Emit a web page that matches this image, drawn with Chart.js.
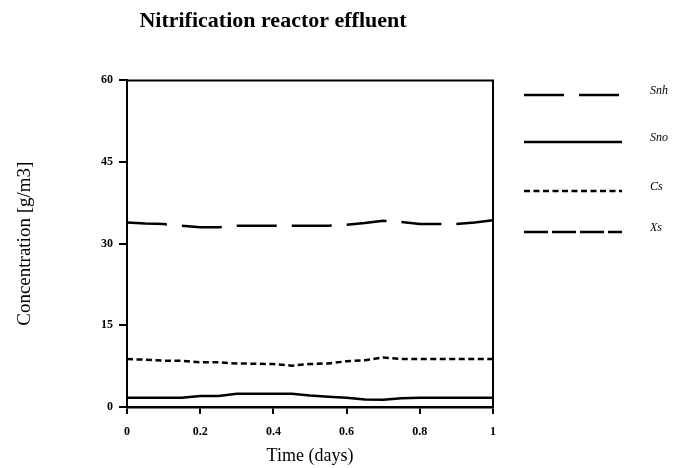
<!DOCTYPE html>
<html>
<head>
<meta charset="utf-8">
<script src="https://cdn.jsdelivr.net/npm/chart.js@4/dist/chart.umd.min.js"></script>
<style>
  html, body { margin: 0; padding: 0; background: #fff; }
  #wrap { width: 680px; height: 468px; }
</style>
</head>
<body>
<div id="wrap"><canvas id="c" width="680" height="468"></canvas></div>
<script>
// Sampling times (days)
const times = [0, 0.05, 0.1, 0.15, 0.2, 0.25, 0.3, 0.35, 0.4, 0.45, 0.5,
               0.55, 0.6, 0.65, 0.7, 0.75, 0.8, 0.85, 0.9, 0.95, 1.0];

// Effluent concentrations [g/m3]
const snh = [33.9, 33.7, 33.6, 33.3, 33.0, 33.0, 33.3, 33.3, 33.3, 33.3, 33.3,
             33.3, 33.5, 33.8, 34.2, 34.0, 33.6, 33.6, 33.6, 33.9, 34.3];
const sno = [1.7, 1.7, 1.7, 1.7, 2.0, 2.0, 2.45, 2.45, 2.45, 2.45, 2.1,
             1.9, 1.7, 1.4, 1.35, 1.6, 1.7, 1.7, 1.7, 1.7, 1.7];
const cs  = [8.8, 8.7, 8.5, 8.5, 8.2, 8.2, 8.0, 7.95, 7.9, 7.6, 7.9,
             8.0, 8.4, 8.6, 9.1, 8.8, 8.8, 8.8, 8.8, 8.8, 8.8];
const xs  = [0, 0, 0, 0, 0, 0, 0, 0, 0, 0, 0,
             0, 0, 0, 0, 0, 0, 0, 0, 0, 0];

const seriesNames = ['Snh', 'Sno', 'Cs', 'Xs'];
const xTicks = [0, 0.2, 0.4, 0.6, 0.8, 1];
const yTicks = [0, 15, 30, 45, 60];

const serif = "'Liberation Serif', 'Times New Roman', serif";

function pts(values) {
  return times.map((t, i) => ({ x: t, y: values[i] }));
}

const dashes = [[40, 15], [], [6, 3.5], [24, 4]];
const seriesData = [snh, sno, cs, xs];

const datasets = seriesNames.map((name, i) => ({
  label: name,
  data: pts(seriesData[i]),
  borderColor: '#000',
  borderWidth: i === 3 ? 2 : 2.5,
  borderDash: dashes[i],
  pointRadius: 0,
  tension: 0,
  fill: false
}));

// Frame around the plot plus the line-sample legend on the right
const framePlugin = {
  id: 'frameAndKey',
  afterDraw(chart) {
    const { ctx, chartArea: a } = chart;
    ctx.save();
    ctx.strokeStyle = '#000';
    ctx.lineWidth = 2;
    ctx.setLineDash([]);
    ctx.beginPath();
    ctx.moveTo(a.left, a.top);
    ctx.lineTo(a.right, a.top);
    ctx.lineTo(a.right, a.bottom);
    ctx.stroke();

    const rowsY = [95, 142, 191, 232];
    chart.data.datasets.forEach((ds, i) => {
      ctx.lineWidth = 2.5;
      ctx.setLineDash(ds.borderDash || []);
      ctx.beginPath();
      ctx.moveTo(524, rowsY[i]);
      ctx.lineTo(622, rowsY[i]);
      ctx.stroke();
      ctx.setLineDash([]);
      ctx.fillStyle = '#000';
      ctx.font = "italic 12px " + serif;
      ctx.textBaseline = 'middle';
      ctx.textAlign = 'left';
      ctx.fillText(ds.label, 650, rowsY[i] - 4);
    });
    ctx.restore();
  }
};

new Chart(document.getElementById('c'), {
  type: 'line',
  data: { datasets },
  options: {
    responsive: false,
    animation: false,
    layout: { padding: { left: 0, right: 134, top: 0, bottom: 0 } },
    plugins: {
      legend: { display: false },
      tooltip: { enabled: false },
      title: {
        display: true,
        text: 'Nitrification reactor effluent',
        color: '#000',
        font: { family: serif, size: 22, weight: 'bold', lineHeight: 1.2 },
        padding: { top: 8, bottom: 46 }
      }
    },
    scales: {
      x: {
        type: 'linear',
        min: 0,
        max: 1,
        z: 1,
        afterBuildTicks(s) { s.ticks = xTicks.map(v => ({ value: v })); },
        afterFit(s) { s.height = 61; },
        ticks: {
          color: '#000',
          font: { family: serif, size: 12, weight: 'bold' },
          padding: 11,
          maxRotation: 0,
          callback: v => String(v)
        },
        grid: { drawOnChartArea: false, drawTicks: true, tickLength: 7, color: '#000', lineWidth: 2 },
        border: { display: true, color: '#000', width: 2.5 },
        title: {
          display: true,
          text: 'Time (days)',
          color: '#000',
          font: { family: serif, size: 18 },
          padding: { top: 2, bottom: 1 }
        }
      },
      y: {
        min: 0,
        max: 60,
        afterBuildTicks(s) { s.ticks = yTicks.map(v => ({ value: v })); },
        afterFit(s) { s.width = 127; },
        ticks: {
          color: '#000',
          font: { family: serif, size: 12, weight: 'bold' },
          padding: 6
        },
        grid: { drawOnChartArea: false, drawTicks: true, tickLength: 8, color: '#000', lineWidth: 2 },
        border: { display: true, color: '#000', width: 2 },
        title: {
          display: true,
          text: 'Concentration [g/m3]',
          color: '#000',
          font: { family: serif, size: 19 },
          padding: { top: 14, bottom: 10 }
        }
      },
      yRight: {
        position: 'right',
        display: true,
        afterFit(s) { s.width = 53; },
        ticks: { display: false },
        grid: { display: false, drawTicks: false },
        border: { display: false }
      }
    }
  },
  plugins: [framePlugin]
});
</script>
</body>
</html>
